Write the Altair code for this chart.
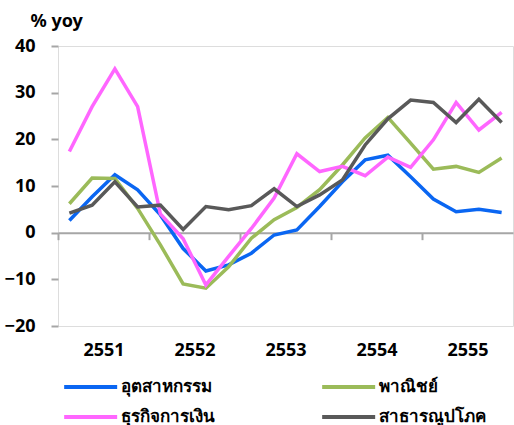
import json

import altair as alt
import pandas as pd

# Year-on-year growth (% yoy), quarterly, 2551-2555
years = ["2551", "2552", "2553", "2554", "2555"]
series = ["อุตสาหกรรม", "พาณิชย์", "ธุรกิจการเงิน", "สาธารณูปโภค"]
colors = ["#0A66F2", "#9BBB59", "#FF66FF", "#595959"]

industry = [2.6, 7.7, 12.4, 9.2, 3.8, -3.4, -8.2, -6.9, -4.4, -0.5,
            0.6, 5.6, 10.9, 15.6, 16.6, 12.0, 7.2, 4.5, 5.0, 4.3]
commerce = [6.2, 11.7, 11.6, 5.2, -2.6, -11.0, -11.9, -7.3, -1.2, 2.8,
            5.4, 9.2, 14.5, 20.3, 24.7, 19.2, 13.6, 14.2, 12.9, 16.0]
finance = [17.4, 27.0, 35.1, 27.0, 4.0, -1.3, -11.2, -5.1, 0.9, 7.4,
           16.9, 13.1, 14.2, 12.2, 16.2, 14.0, 19.9, 27.9, 22.0, 25.8]
utilities = [4.2, 5.9, 10.9, 5.5, 5.9, 0.7, 5.6, 4.9, 5.8, 9.4,
             5.6, 8.1, 11.3, 18.8, 24.4, 28.4, 27.9, 23.6, 28.6, 23.6]

y_ticks = [-20, -10, 0, 10, 20, 30, 40]

rows = []
for name, vals in zip(series, [industry, commerce, finance, utilities]):
    for i, v in enumerate(vals):
        rows.append({"series": name, "q": i + 0.5, "value": v})
df = pd.DataFrame(rows)

W, H = 455, 280
FONT = "Noto Sans"
GRID = "#A6A6A6"
n_q = len(years) * 4
year_px = W / len(years)
y_lo, y_hi = y_ticks[0], y_ticks[-1]
zero_px = H * (0 - y_lo) / (y_hi - y_lo)  # height of the zero line above the bottom edge

# year labels sit at the middle of each 4-quarter block, ticks at block edges
label_pos = [4 * k + 2 for k in range(len(years))]
label_expr = f"{json.dumps(years)}[floor(datum.value / 4)]"

x_axis = alt.Axis(
    values=label_pos,
    labelExpr=label_expr,
    offset=-zero_px,
    domainColor=GRID,
    domainWidth=2,
    tickColor=GRID,
    tickWidth=2,
    tickSize=7,
    tickOffset=-year_px / 2,
    labelOffset=year_px / 2,
    labelPadding=102,
    labelFont=FONT,
    labelFontSize=18,
    labelFontWeight="bold",
    labelColor="#000000",
    grid=False,
    title=None,
)

y_axis = alt.Axis(
    values=y_ticks,
    domain=False,
    tickColor=GRID,
    tickWidth=2,
    tickSize=7,
    labelPadding=16,
    labelFont=FONT,
    labelFontSize=18,
    labelFontWeight="bold",
    labelColor="#000000",
    grid=False,
    title="% yoy",
    titleAngle=0,
    titleAlign="left",
    titleBaseline="alphabetic",
    titleX=-28,
    titleY=-20,
    titleFont=FONT,
    titleFontSize=18,
    titleFontWeight="bold",
    titleColor="#000000",
)

# Legend swatch: a horizontal line three symbol-radii long on each side,
# so the swatch is long while the legend rows stay compact.
SWATCH_LEN = 53
swatch_box = SWATCH_LEN / 3  # symbol box width (sqrt of symbol size)

legend = alt.Legend(
    orient="none",
    direction="horizontal",
    legendX=4 + SWATCH_LEN / 3,
    legendY=330,
    columns=2,
    title=None,
    padding=0,
    symbolType="M-3,0H3",
    symbolSize=swatch_box ** 2,
    symbolStrokeWidth=4,
    labelFont=FONT,
    labelFontSize=17,
    labelFontWeight="bold",
    labelColor="#000000",
    labelOffset=SWATCH_LEN / 3 + 2,
    labelLimit=300,
    columnPadding=98,
    rowPadding=11,
)

chart = (
    alt.Chart(df)
    .mark_line(strokeWidth=3.5)
    .encode(
        x=alt.X("q:Q", scale=alt.Scale(domain=[0, n_q], nice=False, zero=False), axis=x_axis),
        y=alt.Y("value:Q", scale=alt.Scale(domain=[y_lo, y_hi], nice=False), axis=y_axis),
        color=alt.Color("series:N", scale=alt.Scale(domain=series, range=colors), legend=legend),
    )
    .properties(
        width=W,
        height=H,
        autosize=alt.AutoSizeParams(type="none"),
        padding={"left": 58, "top": 46, "right": 1, "bottom": 99},
    )
    .configure_view(stroke=GRID, strokeWidth=2)
    .configure(background="#FFFFFF")
)

chart.save("out.html", embed_options={"renderer": "svg", "actions": False})
